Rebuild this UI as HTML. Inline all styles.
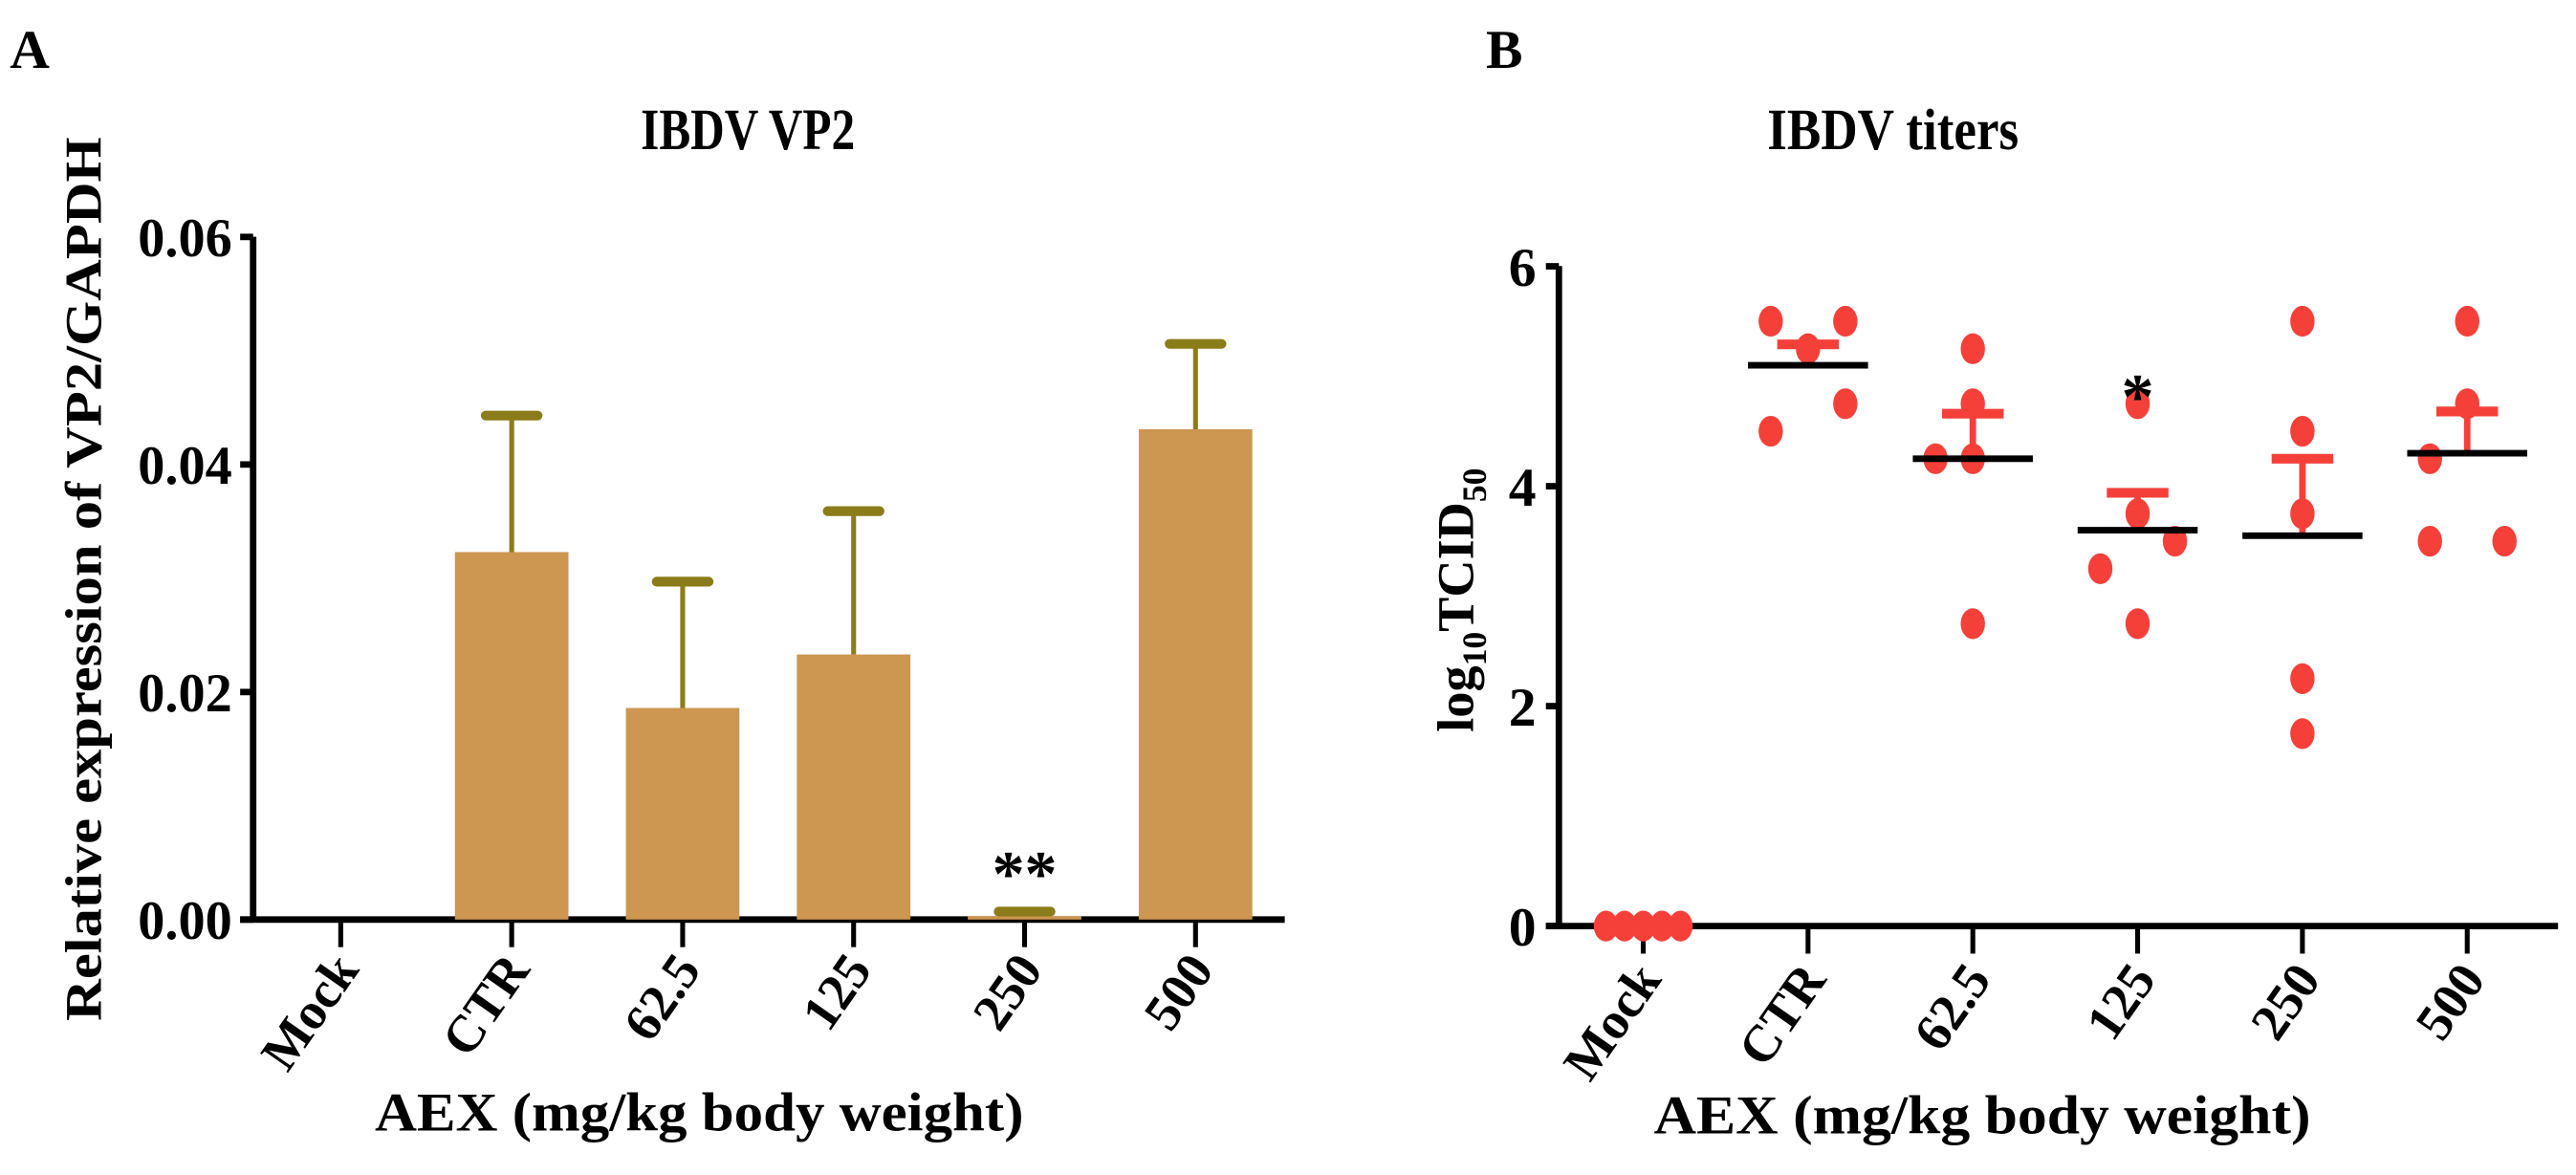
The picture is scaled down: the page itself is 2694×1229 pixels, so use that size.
<!DOCTYPE html>
<html><head><meta charset="utf-8"><style>
html,body{margin:0;padding:0;background:#fff;}
svg{display:block;font-family:"Liberation Serif","DejaVu Serif",serif;}
svg text{font-family:"Liberation Serif","DejaVu Serif",serif !important;font-weight:bold;fill:#000;}
</style></head><body>
<svg id="fig" width="2694" height="1229" viewBox="0 0 1588 724.5" xmlns="http://www.w3.org/2000/svg" font-family="Liberation Serif, serif">
<text x="6" y="42" font-size="34">A</text>
<text x="916" y="42" font-size="34">B</text>
<text x="461" y="92" font-size="36" text-anchor="middle" textLength="132" lengthAdjust="spacingAndGlyphs">IBDV VP2</text>
<text x="1167" y="92" font-size="36" text-anchor="middle" textLength="155" lengthAdjust="spacingAndGlyphs">IBDV titers</text>
<text transform="translate(62,357) rotate(-90)" font-size="32" text-anchor="middle" textLength="545" lengthAdjust="spacingAndGlyphs">Relative expression of VP2/GAPDH</text>
<text transform="translate(908,370) rotate(-90)" font-size="32" text-anchor="middle">log<tspan font-size="21" dy="8">10</tspan><tspan dy="-8">TCID</tspan><tspan font-size="21" dy="8">50</tspan></text>
<text x="431" y="697" font-size="34" text-anchor="middle" textLength="400" lengthAdjust="spacingAndGlyphs">AEX (mg/kg body weight)</text>
<text x="1222" y="699" font-size="34" text-anchor="middle" textLength="405" lengthAdjust="spacingAndGlyphs">AEX (mg/kg body weight)</text>
<g id="ga"></g><g id="gb"></g>
</svg>
<script>
const categories = ["Mock","CTR","62.5","125","250","500"];
const barMeans = [0, 0.0323, 0.0186, 0.0233, 0.0003, 0.0431];
const barErrTops = [0, 0.0443, 0.0297, 0.0359, 0.0007, 0.0506];
const yTicksA = [0, 0.02, 0.04, 0.06];
const yTickLabelsA = ["0.00","0.02","0.04","0.06"];
const titerMock = [0,0,0,0,0];
const titerCTR = [5.5,5.5,5.25,4.75,4.5];
const titer625 = [5.25,4.75,4.25,4.25,2.75];
const titer125 = [4.75,3.75,3.5,3.25,2.75];
const titer250 = [5.5,4.5,3.75,2.25,1.75];
const titer500 = [5.5,4.75,4.25,3.5,3.5];
const titerSem = [0, 0.19, 0.41, 0.34, 0.70, 0.38];
const yTicksB = [0,2,4,6];
const jitterMock = [-2,-1,0,1,2];
const jitterCTR = [-2,2,0,2,-2];
const jitter625 = [0,0,-2,0,0];
const jitter125 = [0,0,2,-2,0];
const jitter250 = [0,0,0,0,0];
const jitter500 = [0,0,-2,-2,2];
const NS="http://www.w3.org/2000/svg";
function mk(tag,attrs,parent){const e=document.createElementNS(NS,tag);for(const k in attrs)e.setAttribute(k,attrs[k]);parent.appendChild(e);return e;}
// Panel A
const ga=document.getElementById('ga');
const xA=i=>210+i*105.4;
const yA=v=>567-v/0.02*140.3;
let ax=mk('line',{x1:156,y1:146,x2:156,y2:567,stroke:'#000','stroke-width':4},ga);

ax=mk('line',{x1:148,y1:567,x2:792,y2:567,stroke:'#000','stroke-width':4},ga);

yTicksA.forEach((t,i)=>{
  const l=mk('line',{x1:148,y1:yA(t),x2:156,y2:yA(t),stroke:'#000','stroke-width':4},ga);
  
  const tx=mk('text',{x:143,y:yA(t)+12,'font-size':34,'text-anchor':'end',textLength:58,lengthAdjust:'spacingAndGlyphs'},ga);tx.textContent=yTickLabelsA[i];
  
});
categories.forEach((c,i)=>{
  const x=xA(i);
  const tk=mk('line',{x1:x,y1:567,x2:x,y2:584,stroke:'#000','stroke-width':3},ga);
  
  const tx=mk('text',{transform:`translate(${x+12},${598}) rotate(-55)`,'font-size':32,'text-anchor':'end'},ga);tx.textContent=c;
  
  if(barMeans[i]>0){
    const b=mk('rect',{x:x-35,y:yA(barMeans[i]),width:70,height:567-yA(barMeans[i]),fill:'#cd9651'},ga);
    
    const e=mk('line',{x1:x,y1:yA(barMeans[i]),x2:x,y2:yA(barErrTops[i]),stroke:'#8b7c1a','stroke-width':3},ga);
    
    const cp=mk('line',{x1:x-16,y1:yA(barErrTops[i]),x2:x+16,y2:yA(barErrTops[i]),stroke:'#8b7c1a','stroke-width':6,'stroke-linecap':'round'},ga);
    
  }
});
let st=mk('text',{x:xA(4),y:552,'font-size':40,'text-anchor':'middle'},ga);st.textContent='**';

// Panel B
const gb=document.getElementById('gb');
const xB=i=>1013+i*101.6;
const yB=v=>571-v*67.8;
ax=mk('line',{x1:961,y1:164,x2:961,y2:571,stroke:'#000','stroke-width':4},gb);

ax=mk('line',{x1:953,y1:571,x2:1577,y2:571,stroke:'#000','stroke-width':4},gb);

yTicksB.forEach(t=>{
  const l=mk('line',{x1:953,y1:yB(t),x2:961,y2:yB(t),stroke:'#000','stroke-width':4},gb);
  
  const tx=mk('text',{x:947,y:yB(t)+12,'font-size':34,'text-anchor':'end'},gb);tx.textContent=String(t);
  
});
const groups=[titerMock,titerCTR,titer625,titer125,titer250,titer500];
const jit=[jitterMock,jitterCTR,jitter625,jitter125,jitter250,jitter500];
categories.forEach((c,i)=>{
  const x=xB(i);
  const tk=mk('line',{x1:x,y1:571,x2:x,y2:588,stroke:'#000','stroke-width':3},gb);
  
  const tx=mk('text',{transform:`translate(${x+12},${604}) rotate(-55)`,'font-size':32,'text-anchor':'end'},gb);tx.textContent=c;
  
  const vals=groups[i];
  const mean=vals.reduce((a,b)=>a+b,0)/vals.length;
  vals.forEach((v,j)=>{
    const p=mk('ellipse',{cx:x+jit[i][j]*11.5,cy:yB(v),rx:7.5,ry:9.5,fill:'#f5403a'},gb);
    
  });
  if(titerSem[i]>0){
    const e=mk('line',{x1:x,y1:yB(mean),x2:x,y2:yB(mean+titerSem[i]),stroke:'#f5403a','stroke-width':4},gb);
    
    const cp=mk('line',{x1:x-19,y1:yB(mean+titerSem[i]),x2:x+19,y2:yB(mean+titerSem[i]),stroke:'#f5403a','stroke-width':6},gb);
    
    const m=mk('line',{x1:x-37,y1:yB(mean),x2:x+37,y2:yB(mean),stroke:'#000','stroke-width':4},gb);
    
  }
});
st=mk('text',{x:xB(3),y:258,'font-size':40,'text-anchor':'middle'},gb);st.textContent='*';

</script>
</body></html>
